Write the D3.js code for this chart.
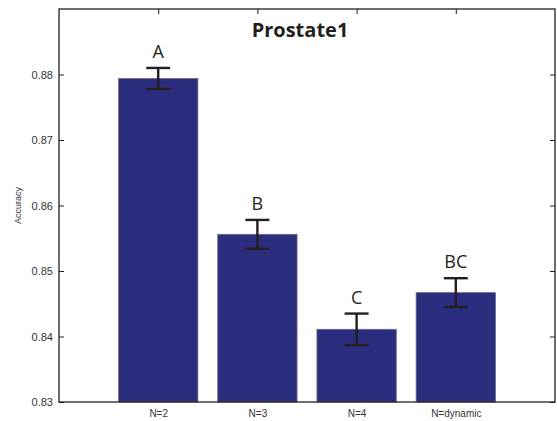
<!DOCTYPE html>
<html lang="en">
<head>
    <meta charset="UTF-8">
    <title>Prostate1</title>
    <script src="https://d3js.org/d3.v7.min.js"></script>
    <style>
        body { margin: 0; background: #fff; }
        .tick text { font-family: "Liberation Sans", Arial, sans-serif; fill: #333; }
    </style>
</head>
<body>
    <svg width="557" height="421"></svg>
    <script>
        // data
        const categories = ["N=2", "N=3", "N=4", "N=dynamic"];
        const accuracy = [0.8794, 0.8556, 0.8411, 0.8467];
        const errors = [0.0016, 0.0022, 0.0024, 0.0022];
        const groups = ["A", "B", "C", "BC"];
        const yTicks = [0.83, 0.84, 0.85, 0.86, 0.87, 0.88];

        const svg = d3.select("svg");
        const mLeft = 59, mRight = 555, mTop = 9, mBottom = 402;

        const x = d3.scaleLinear().domain([0, categories.length + 1]).range([mLeft, mRight]);
        const y = d3.scaleLinear().domain([0.83, 0.89]).range([mBottom, mTop]);
        const barW = x(0.8) - x(0);
        const ink = "#231f20";

        // bars
        svg.append("g").selectAll("rect")
            .data(accuracy)
            .enter()
            .append("rect")
            .attr("x", (d, i) => x(i + 1) - barW / 2)
            .attr("y", d => y(d))
            .attr("width", barW)
            .attr("height", d => y(0.83) - y(d))
            .attr("fill", "#2b2d7e")
            .attr("stroke", "#6e6e80")
            .attr("stroke-width", 0.8);

        // error bars
        const eb = svg.append("g").attr("stroke", ink).attr("stroke-width", 2.4);
        accuracy.forEach(function (d, i) {
            const cx = x(i + 1), hi = y(d + errors[i]), lo = y(d - errors[i]);
            eb.append("line").attr("x1", cx).attr("x2", cx).attr("y1", hi).attr("y2", lo);
            eb.append("line").attr("x1", cx - 12).attr("x2", cx + 12).attr("y1", hi).attr("y2", hi);
            eb.append("line").attr("x1", cx - 12).attr("x2", cx + 12).attr("y1", lo).attr("y2", lo);
        });

        // group letters
        svg.append("g").selectAll("text")
            .data(groups)
            .enter()
            .append("text")
            .attr("x", (d, i) => x(i + 1))
            .attr("y", (d, i) => y(accuracy[i] + errors[i]) - 10)
            .attr("text-anchor", "middle")
            .attr("font-family", "'Open Sans', sans-serif")
            .attr("font-size", 18)
            .attr("fill", ink)
            .text(d => d);

        // axes
        const gl = svg.append("g").attr("transform", `translate(${mLeft},0)`)
            .call(d3.axisLeft(y).tickValues(yTicks).tickFormat(d3.format(".2f"))
                .tickSizeInner(-5).tickSizeOuter(0).tickPadding(6));
        const gr = svg.append("g").attr("transform", `translate(${mRight},0)`)
            .call(d3.axisRight(y).tickValues(yTicks).tickFormat("")
                .tickSizeInner(-5).tickSizeOuter(0));
        const gt = svg.append("g").attr("transform", `translate(0,${mTop})`)
            .call(d3.axisTop(x).tickValues([1, 2, 3, 4]).tickFormat("")
                .tickSizeInner(-5).tickSizeOuter(0));
        const gb = svg.append("g").attr("transform", `translate(0,${mBottom})`)
            .call(d3.axisBottom(x).tickValues([1, 2, 3, 4]).tickFormat((d, i) => categories[i])
                .tickSize(0).tickPadding(8));

        [gl, gr, gt, gb].forEach(function (g) {
            g.select(".domain").remove();
            g.selectAll("line").attr("stroke", ink).attr("stroke-width", 1);
        });
        gl.selectAll("text").attr("font-size", 11);
        gb.selectAll("text").attr("font-size", 10);

        // axes box
        svg.append("rect")
            .attr("x", mLeft).attr("y", mTop)
            .attr("width", mRight - mLeft).attr("height", mBottom - mTop)
            .attr("fill", "none").attr("stroke", ink).attr("stroke-width", 1.3);

        svg.append("text")
            .attr("transform", `translate(21,${(mTop + mBottom) / 2}) rotate(-90)`)
            .attr("text-anchor", "middle")
            .attr("font-family", "'Liberation Sans', Arial, sans-serif")
            .attr("font-size", 9)
            .attr("fill", "#333")
            .text("Accuracy");

        svg.append("text")
            .attr("x", 300).attr("y", 37)
            .attr("text-anchor", "middle")
            .attr("font-family", "'Open Sans', sans-serif")
            .attr("font-weight", "bold")
            .attr("font-size", 20)
            .attr("fill", ink)
            .text("Prostate1");
    </script>
</body>
</html>
